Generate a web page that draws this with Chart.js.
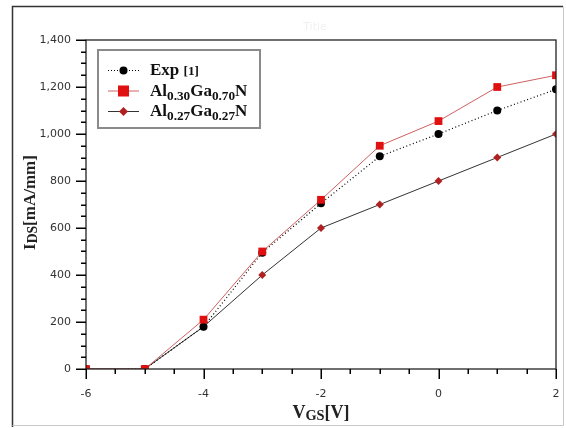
<!DOCTYPE html>
<html>
<head>
<meta charset="utf-8">
<script src="https://cdn.jsdelivr.net/npm/chart.js@4"></script>
<style>
  html, body { margin: 0; padding: 0; background: #fff; }
  #wrap { width: 566px; height: 428px; }
</style>
</head>
<body>
<div id="wrap"><canvas id="ivChart" width="566" height="428"></canvas></div>
<script>
  // gate voltage (V) and drain current (mA/mm)
  const vgs = [-6, -5, -4, -3, -2, -1, 0, 1, 2];
  const expValues = [0, 0, 180, 495, 705, 905, 1000, 1100, 1190];
  const al30Values = [0, 0, 210, 500, 720, 950, 1055, 1200, 1250];
  const al27Values = [0, 0, 180, 400, 600, 700, 800, 900, 1000];
  const xMin = -6, xMax = 2, xStep = 2, xMinor = 0.5;
  const yMin = 0, yMax = 1400, yStep = 200, yMinor = 50;

  const legendItems = [
    { parts: [['Exp ', 0], ['[1]', 2]], dash: [1, 2], line: '#000', style: 'circle', color: '#000', r: 4 },
    { parts: [['Al', 0], ['0.30', 1], ['Ga', 0], ['0.70', 1], ['N', 0]], dash: [], line: '#d06060', style: 'rect', color: '#e01010', r: 5.5 },
    { parts: [['Al', 0], ['0.27', 1], ['Ga', 0], ['0.27', 1], ['N', 0]], dash: [], line: '#333', style: 'rectRot', color: '#b02020', r: 3.5 }
  ];

  function toPoints(values) {
    return vgs.map((v, i) => ({ x: v, y: values[i] }));
  }

  // piece kinds: 0 normal, 1 subscript, 2 smaller, 3 small on baseline
  function pieceStyle(kind, size) {
    if (kind === 1) return [size * 0.78, size * 0.25];
    if (kind === 2) return [size * 0.78, 0];
    if (kind === 3) return [size * 0.8, size * 0.12];
    return [size, 0];
  }

  function drawParts(ctx, parts, x, y, size) {
    parts.forEach(([txt, kind]) => {
      const [s, dy] = pieceStyle(kind, size);
      ctx.font = 'bold ' + s + 'px "Liberation Serif", "DejaVu Serif", serif';
      ctx.fillText(txt, x, y + dy);
      x += ctx.measureText(txt).width;
    });
    return x;
  }

  function partsWidth(ctx, parts, size) {
    let w = 0;
    parts.forEach(([txt, kind]) => {
      const [s] = pieceStyle(kind, size);
      ctx.font = 'bold ' + s + 'px "Liberation Serif", "DejaVu Serif", serif';
      w += ctx.measureText(txt).width;
    });
    return w;
  }

  const framePlugin = {
    id: 'frame',
    beforeDraw(chart) {
      const ctx = chart.ctx;
      ctx.save();
      ctx.fillStyle = '#fff';
      ctx.fillRect(0, 0, chart.width, chart.height);
      // outer frame
      ctx.lineWidth = 1.5;
      ctx.strokeStyle = '#333';
      ctx.beginPath();
      ctx.moveTo(12.5, 427); ctx.lineTo(12.5, 6.5); ctx.lineTo(563, 6.5);
      ctx.stroke();
      ctx.strokeStyle = '#c8c8c8';
      ctx.lineWidth = 1;
      ctx.beginPath();
      ctx.moveTo(563.5, 6.5); ctx.lineTo(563.5, 425.5); ctx.lineTo(12.5, 425.5);
      ctx.stroke();
      // faint title
      ctx.fillStyle = '#f1f1f1';
      ctx.font = '11px "DejaVu Sans", sans-serif';
      ctx.textAlign = 'center';
      ctx.textBaseline = 'middle';
      ctx.fillText('Title', 315, 27);
      ctx.restore();
    },
    afterDraw(chart) {
      const ctx = chart.ctx;
      const a = chart.chartArea;
      const xs = chart.scales.x, ys = chart.scales.y;
      ctx.save();
      ctx.setLineDash([]);
      ctx.strokeStyle = '#222';
      ctx.lineWidth = 1.3;
      ctx.strokeRect(a.left, a.top, a.right - a.left, a.bottom - a.top);

      // tick marks, major and minor, pointing outwards
      ctx.fillStyle = '#000';
      const left = Math.round(a.left), bottom = Math.round(a.bottom);
      for (let i = 0; i <= (yMax - yMin) / yMinor; i++) {
        const v = yMin + i * yMinor;
        const py = Math.round(ys.getPixelForValue(v));
        const len = (v % yStep === 0) ? 10 : 5;
        ctx.fillRect(left - len, py - 0.5, len, 1.5);
      }
      for (let i = 0; i <= (xMax - xMin) / xMinor; i++) {
        const v = xMin + i * xMinor;
        const px = Math.round(xs.getPixelForValue(v));
        const len = (Math.abs(v % xStep) < 0.01) ? 10 : 5;
        ctx.fillRect(px - 0.5, bottom, 1.5, len);
      }

      // axis titles
      ctx.fillStyle = '#222';
      ctx.textBaseline = 'alphabetic';
      ctx.textAlign = 'left';
      const xParts = [['V', 0], ['GS', 3], ['[V]', 0]];
      const xw = partsWidth(ctx, xParts, 18);
      drawParts(ctx, xParts, (a.left + a.right) / 2 - xw / 2, 418, 18);

      const yParts = [['I', 0], ['DS', 3], ['[mA/mm]', 0]];
      const yw = partsWidth(ctx, yParts, 17);
      ctx.save();
      ctx.translate(35, (a.top + a.bottom) / 2 - 2);
      ctx.rotate(-Math.PI / 2);
      drawParts(ctx, yParts, -yw / 2, 0, 17);
      ctx.restore();

      // legend box
      ctx.fillStyle = '#fff';
      ctx.fillRect(98, 50, 162, 78);
      ctx.strokeStyle = '#8a8a8a';
      ctx.lineWidth = 2;
      ctx.strokeRect(98, 50, 162, 78);
      legendItems.forEach((it, i) => {
        const cy = 70 + i * 20.5;
        ctx.strokeStyle = it.line;
        ctx.lineWidth = 1;
        ctx.setLineDash(it.dash);
        ctx.beginPath();
        ctx.moveTo(108, cy + 0.5);
        ctx.lineTo(139, cy + 0.5);
        ctx.stroke();
        ctx.setLineDash([]);
        ctx.fillStyle = it.color;
        ctx.beginPath();
        if (it.style === 'circle') {
          ctx.arc(123.5, cy + 0.5, it.r, 0, Math.PI * 2);
        } else if (it.style === 'rect') {
          ctx.rect(123.5 - it.r, cy + 0.5 - it.r, it.r * 2, it.r * 2);
        } else {
          ctx.moveTo(123.5, cy + 0.5 - it.r - 1);
          ctx.lineTo(123.5 + it.r + 1, cy + 0.5);
          ctx.lineTo(123.5, cy + 0.5 + it.r + 1);
          ctx.lineTo(123.5 - it.r - 1, cy + 0.5);
          ctx.closePath();
        }
        ctx.fill();
        ctx.fillStyle = '#111';
        drawParts(ctx, it.parts, 150, cy + 5, 17);
      });
      ctx.restore();
    }
  };

  const ctx = document.getElementById('ivChart').getContext('2d');
  new Chart(ctx, {
    type: 'line',
    data: {
      datasets: [
        {
          label: 'Al0.30Ga0.70N',
          data: toPoints(al30Values),
          borderColor: '#d06060',
          borderWidth: 1,
          pointStyle: 'rect',
          pointRadius: 5.5,
          pointBackgroundColor: '#e01010',
          pointBorderColor: '#e01010',
          pointBorderWidth: 0,
          order: 0
        },
        {
          label: 'Exp [1]',
          data: toPoints(expValues),
          borderColor: '#000',
          borderWidth: 1.2,
          borderDash: [1, 2.5],
          pointStyle: 'circle',
          pointRadius: 4,
          pointBackgroundColor: '#000',
          pointBorderColor: '#000',
          pointBorderWidth: 0,
          order: 1
        },
        {
          label: 'Al0.27Ga0.27N',
          data: toPoints(al27Values),
          borderColor: '#333',
          borderWidth: 1,
          pointStyle: 'rectRot',
          pointRadius: 4,
          pointBackgroundColor: '#b02020',
          pointBorderColor: '#b02020',
          pointBorderWidth: 0,
          order: 2
        }
      ]
    },
    options: {
      responsive: false,
      animation: false,
      events: [],
      layout: { autoPadding: false, padding: { top: 40, right: 10, bottom: 0, left: 0 } },
      plugins: { legend: { display: false }, tooltip: { enabled: false }, title: { display: false } },
      scales: {
        x: {
          type: 'linear',
          min: xMin, max: xMax,
          grid: { display: false },
          border: { display: false },
          ticks: {
            stepSize: xStep,
            padding: 11,
            color: '#333',
            font: { family: '"DejaVu Sans", sans-serif', size: 11 },
            maxRotation: 0
          },
          afterFit(scale) {
            scale.height = 59;
            scale.paddingLeft = 0;
            scale.paddingRight = 0;
          }
        },
        y: {
          type: 'linear',
          min: yMin, max: yMax,
          grid: { display: false },
          border: { display: false },
          ticks: {
            stepSize: yStep,
            padding: 7,
            color: '#333',
            font: { family: '"DejaVu Sans", sans-serif', size: 11 }
          },
          afterFit(scale) { scale.width = 86; }
        }
      }
    },
    plugins: [framePlugin]
  });
</script>
</body>
</html>
